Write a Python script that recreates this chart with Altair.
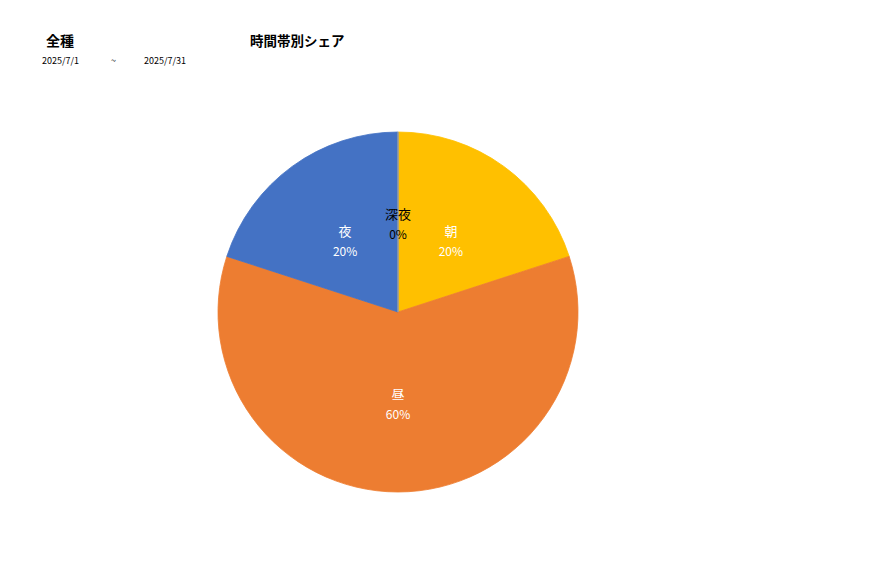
import altair as alt
import pandas as pd

categories = ["朝", "昼", "夜", "深夜"]
shares = [20, 60, 20, 0]
colors = ["#FFC000", "#ED7D31", "#4472C4", "#A5A5A5"]
text_colors = ["white", "white", "white", "black"]

df = pd.DataFrame({
    "cat": categories,
    "share": shares,
    "ord": list(range(len(categories))),
    "pct": [f"{s}%" for s in shares],
    "tcol": text_colors,
})

FONT = "Noto Sans CJK JP"
CX, CY, R = 390, 304, 180

base = alt.Chart(df).encode(
    theta=alt.Theta("share:Q", stack=True),
    order=alt.Order("ord:Q"),
)

color_scale = alt.Scale(domain=categories, range=colors)

pie = base.mark_arc(outerRadius=R, strokeWidth=0.8).encode(
    color=alt.Color("cat:N", scale=color_scale, legend=None),
    stroke=alt.Stroke("cat:N", scale=color_scale, legend=None),
    x=alt.value(CX), y=alt.value(CY),
)

name_lbl = base.mark_text(radius=90, dy=-7, font=FONT, fontSize=13).encode(
    text="cat:N",
    color=alt.Color("tcol:N", scale=None),
    x=alt.value(CX), y=alt.value(CY),
)
pct_lbl = base.mark_text(radius=90, dy=13, font=FONT, fontSize=12).encode(
    text="pct:N",
    color=alt.Color("tcol:N", scale=None),
    x=alt.value(CX), y=alt.value(CY),
)

def label(txt, x, y, size, weight="normal", align="left"):
    return alt.Chart(pd.DataFrame({"t": [txt]})).mark_text(
        font=FONT, fontSize=size, fontWeight=weight, align=align, baseline="middle", color="black"
    ).encode(text="t:N", x=alt.value(x), y=alt.value(y))

titles = [
    label("全種", 38, 34, 14, "bold"),
    label("時間帯別シェア", 242, 34, 13.5, "bold"),
    label("2025/7/1", 34, 53, 9),
    label("~", 103, 53, 9),
    label("2025/7/31", 136, 53, 9),
]

chart = alt.layer(pie, name_lbl, pct_lbl, *titles).properties(
    width=861, height=562, padding=0, autosize=alt.AutoSizeParams(type="none")
).configure_view(stroke=None)

chart.save("out.html", embed_options={"renderer": "svg", "actions": False})
